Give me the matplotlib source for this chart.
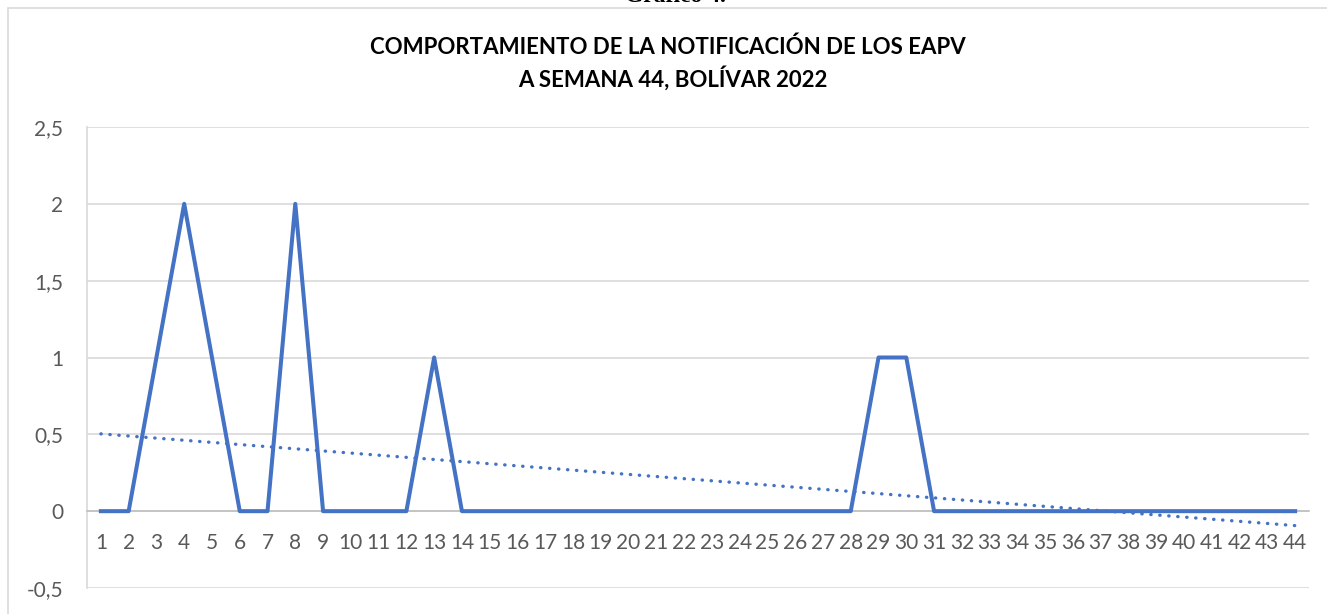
import numpy as np
import matplotlib.pyplot as plt
from matplotlib.patches import Rectangle

# datos: notificación semanal de EAPV, semanas 1 a 44
semanas = list(range(1, 45))
casos = [0, 0, 1, 2, 1, 0, 0, 2, 0, 0, 0, 0, 1, 0, 0, 0, 0, 0, 0, 0, 0, 0,
         0, 0, 0, 0, 0, 0, 1, 1, 0, 0, 0, 0, 0, 0, 0, 0, 0, 0, 0, 0, 0, 0]
y_ticks = [-0.5, 0, 0.5, 1, 1.5, 2, 2.5]
y_labels = ["-0,5", "0", "0,5", "1", "1,5", "2", "2,5"]

titulo1 = "COMPORTAMIENTO DE LA NOTIFICACIÓN DE LOS EAPV"
titulo2 = "A SEMANA 44, BOLÍVAR 2022"

azul = "#4472C4"
gris_txt = "#595959"
gris_grid = "#D9D9D9"

plt.rcParams['font.family'] = ['Lato', 'DejaVu Sans']

W, H = 1327, 614
fig = plt.figure(figsize=(W / 100, H / 100), dpi=100)

# marco del gráfico
fig.patches.append(Rectangle((8 / W, -0.1), 1.2, 1 - 8 / H + 0.1,
                             transform=fig.transFigure, fill=False,
                             edgecolor="#D9D9D9", linewidth=1.2, zorder=0))

# "Gráfico 4." cortado arriba (como en la imagen original)
fig.text(675 / W, 1 - 2 / H, "Gráfico 4.", ha="center", va="baseline",
         family="Liberation Serif", fontweight="bold", fontsize=17)

ax = fig.add_axes([87 / W, 1 - 588 / H, (1309 - 87) / W, (588 - 127) / H])

# línea de tendencia (regresión lineal)
m, b = np.polyfit(semanas, casos, 1)
tend = [m * s + b for s in semanas]
ax.plot(semanas, tend, color=azul, linestyle=(0, (0.1, 2.6)), linewidth=2.4,
        dash_capstyle="round", zorder=3)
ax.plot(semanas, casos, color=azul, linewidth=2.9, zorder=4)

ax.set_xlim(0.5, 44.5)
ax.set_ylim(-0.5, 2.5)
ax.set_yticks(y_ticks)
ax.set_yticklabels(y_labels)
ax.grid(axis="y", color=gris_grid, linewidth=1.2)
ax.set_axisbelow(True)

for s in ["top", "right"]:
    ax.spines[s].set_visible(False)
ax.spines["left"].set_color(gris_grid)
ax.spines["left"].set_linewidth(1.2)
ax.spines["bottom"].set_position(("data", 0))
ax.spines["bottom"].set_color("#BFBFBF")
ax.spines["bottom"].set_linewidth(1.2)

ax.set_xticks(semanas)
ax.set_xticklabels([str(s) for s in semanas])
ax.tick_params(axis="x", length=0, pad=16, labelsize=15, labelcolor=gris_txt)
ax.tick_params(axis="y", length=0, pad=17, labelsize=15, labelcolor=gris_txt)

fig.text(668 / W, 1 - 47 / H, titulo1, ha="center", va="center",
         fontweight="bold", fontsize=16, color="#000000")
fig.text(673 / W, 1 - 78 / H, titulo2, ha="center", va="center",
         fontweight="bold", fontsize=16, color="#000000")

fig.savefig("out.png", dpi=100)
